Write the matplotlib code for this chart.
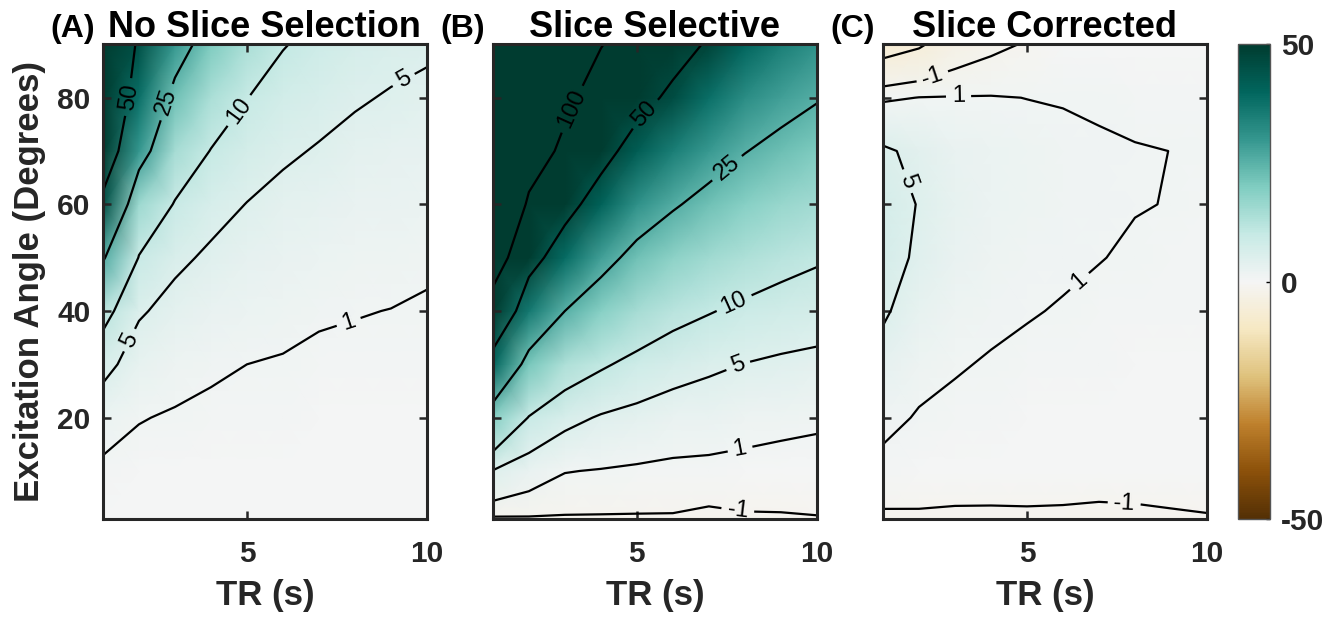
import numpy as np
import matplotlib.pyplot as plt

plt.rcParams['font.family'] = ['Liberation Sans', 'DejaVu Sans']
plt.rcParams['font.weight'] = 'bold'
plt.rcParams['axes.labelweight'] = 'bold'
plt.rcParams['axes.unicode_minus'] = False
plt.rcParams['contour.negative_linestyle'] = 'solid'

# grid of the maps
tr = [1, 2, 3, 4, 5, 6, 7, 8, 9, 10]
angle = [1, 10, 20, 30, 40, 50, 60, 70, 80, 90]

# error values, one list per TR, running over the angles above
no_slice = [
    [0.1, 0.5, 2.2, 6.5, 12, 26, 45, 65, 80, 95],
    [0.05, 0.3, 1.1, 2.8, 5.5, 9.7, 16, 30, 38, 45],
    [0.03, 0.2, 0.8, 1.8, 3.6, 5.9, 9.6, 14.5, 22, 30],
    [0.02, 0.15, 0.6, 1.3, 2.6, 4.3, 6.5, 9.8, 14, 20],
    [0.01, 0.12, 0.5, 1.0, 2.0, 3.3, 4.9, 7.2, 10.1, 14],
    [0.01, 0.1, 0.4, 0.85, 1.6, 2.6, 3.9, 5.6, 7.7, 10.3],
    [0.01, 0.08, 0.33, 0.65, 1.22, 2.15, 3.2, 4.7, 6.4, 8.4],
    [0.01, 0.07, 0.28, 0.6, 1.08, 1.8, 2.7, 3.9, 5.4, 7.0],
    [0.01, 0.06, 0.24, 0.52, 0.97, 1.6, 2.4, 3.4, 4.7, 6.2],
    [0.01, 0.05, 0.21, 0.46, 0.8, 1.3, 2.1, 3.0, 4.2, 5.6],
]
slice_sel = [
    [-1.3, 4.8, 19, 40, 75, 130, 190, 260, 330, 400],
    [-1.2, 2.6, 9.7, 21, 36, 58, 91, 130, 175, 220],
    [-1.2, 1.1, 6.3, 13.5, 25, 39, 57, 88, 112, 135],
    [-1.2, 0.85, 4.6, 10.7, 19, 28.5, 41, 57, 76, 102],
    [-1.2, 0.6, 3.7, 8.5, 14.5, 22, 31, 42, 57, 75],
    [-1.2, 0.45, 2.7, 7.0, 11.8, 18, 26, 35, 46, 58],
    [-1.5, 0.4, 2.4, 5.8, 10.3, 15.5, 22, 29.5, 38, 48],
    [-1.25, 0.33, 1.9, 4.9, 8.9, 13.5, 19, 25.3, 32, 40],
    [-1.2, 0.22, 1.6, 4.3, 7.9, 11.8, 16.5, 22.3, 28.5, 35],
    [-1.1, 0.2, 1.35, 3.9, 7.2, 10.6, 14.9, 20, 25.6, 31],
]
slice_corr = [
    [-1.4, 0.5, 1.5, 3.4, 5.6, 6.8, 7.0, 5.5, 0.6, -7],
    [-1.35, 0.3, 0.85, 1.6, 2.8, 4.3, 4.8, 4.2, 1.05, -5.5],
    [-1.45, 0.2, 0.6, 1.15, 1.9, 2.5, 2.8, 2.6, 1.1, -2.8],
    [-1.45, 0.15, 0.45, 0.85, 1.4, 1.85, 2.1, 2.0, 1.1, -1.6],
    [-1.4, 0.12, 0.35, 0.68, 1.1, 1.5, 1.7, 1.65, 0.98, -0.8],
    [-1.45, 0.1, 0.3, 0.55, 0.9, 1.25, 1.45, 1.4, 0.9, 0.2],
    [-1.6, 0.08, 0.25, 0.45, 0.72, 1.04, 1.2, 1.18, 0.8, 0.3],
    [-1.5, 0.07, 0.2, 0.38, 0.6, 0.85, 1.05, 1.06, 0.7, 0.3],
    [-1.3, 0.06, 0.17, 0.32, 0.5, 0.72, 0.97, 0.995, 0.65, 0.3],
    [-1.15, 0.05, 0.15, 0.28, 0.44, 0.62, 0.78, 0.85, 0.6, 0.3],
]

titles = ['No Slice Selection', 'Slice Selective', 'Slice Corrected']
letters = ['(A)', '(B)', '(C)']
levels = [-5, -1, 1, 5, 10, 25, 50, 100]
label_spots = [
    [(1.85, 80), (2.85, 79), (4.8, 77.5), (9.3, 84), (1.9, 34), (7.8, 38.5)],
    [(3.15, 78), (5.3, 76.5), (7.6, 66), (7.7, 41.5), (7.8, 30), (7.85, 14.7), (7.8, 2.5)],
    [(2.4, 83.4), (3.1, 80), (1.75, 64.5), (6.4, 46), (7.7, 3.8)],
]

dark = '#262626'
fig = plt.figure(figsize=(13.25, 6.18), dpi=100)
lefts = [0.0777, 0.372, 0.6664]
bottom, width, height = 0.1602, 0.2445, 0.768

for i, data in enumerate([no_slice, slice_sel, slice_corr]):
    ax = fig.add_axes([lefts[i], bottom, width, height])
    z = np.array(data).T
    mesh = ax.pcolormesh(tr, angle, z, shading='gouraud', cmap='BrBG', vmin=-50, vmax=50)
    cs = ax.contour(tr, angle, z, levels=levels, colors='k', linewidths=1.6)
    txt = ax.clabel(cs, manual=label_spots[i], inline=True,
                    inline_spacing=6, fmt='%g', fontsize=17)
    for t in txt:
        t.set_fontweight('normal')
    ax.set_xlim(1, 10)
    ax.set_ylim(1, 90)
    ax.set_xticks([5, 10])
    ax.set_yticks([20, 40, 60, 80])
    ax.tick_params(direction='in', length=5.5, width=1.8, color=dark, labelcolor=dark,
                   labelsize=21.5, top=True, right=True)
    ax.tick_params(axis='x', pad=15)
    ax.tick_params(axis='y', pad=9)
    if i > 0:
        ax.set_yticklabels([])
    for s in ax.spines.values():
        s.set_linewidth(2.2)
        s.set_color(dark)
    ax.set_xlabel('TR (s)', fontsize=25, color=dark, labelpad=8)
    ax.set_title(titles[i], fontsize=26, fontweight='bold', pad=5)
    ax.annotate(letters[i], xy=(0, 1), xycoords='axes fraction', xytext=(-38, 5),
                textcoords='offset points', fontsize=23, fontweight='bold',
                va='baseline', ha='left')
    if i == 0:
        ax.set_ylabel('Excitation Angle (Degrees)', fontsize=25, color=dark, labelpad=8)

cax = fig.add_axes([0.9343, bottom, 0.0242, height])
cb = fig.colorbar(mesh, cax=cax, ticks=[-50, 0, 50])
cb.outline.set_edgecolor('#555555')
cb.outline.set_linewidth(1)
cax.tick_params(direction='in', length=3, width=1, labelsize=21.5, labelcolor=dark, pad=8)

fig.savefig('out.png', dpi=100)
